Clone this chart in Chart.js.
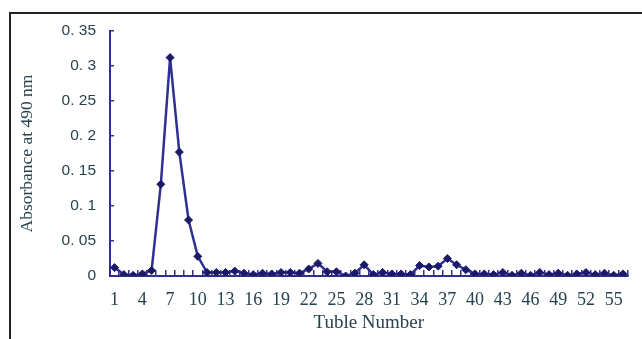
<!DOCTYPE html>
<html>
<head>
<meta charset="utf-8">
<script src="https://cdn.jsdelivr.net/npm/chart.js@4/dist/chart.umd.min.js"></script>
<style>
  html, body { margin: 0; padding: 0; background: #fff; }
  #wrap { position: relative; width: 642px; height: 339px; }
  #frame {
    position: absolute; left: 9px; top: 12px; right: -5px; bottom: -5px;
    border-left: 2px solid #222; border-top: 2px solid #222;
    pointer-events: none;
  }
</style>
</head>
<body>
<div id="wrap">
  <canvas id="chart" width="642" height="339"></canvas>
  <div id="frame"></div>
</div>
<script>
// tube numbers along the x axis
const tubes = [
  "1", "2", "3", "4", "5", "6", "7", "8", "9", "10",
  "11", "12", "13", "14", "15", "16", "17", "18", "19", "20",
  "21", "22", "23", "24", "25", "26", "27", "28", "29", "30",
  "31", "32", "33", "34", "35", "36", "37", "38", "39", "40",
  "41", "42", "43", "44", "45", "46", "47", "48", "49", "50",
  "51", "52", "53", "54", "55", "56"
];

// absorbance at 490 nm
const absorbance = [
  0.012, 0.002, 0.001, 0.003, 0.008, 0.131, 0.312, 0.177, 0.080, 0.028,
  0.005, 0.005, 0.005, 0.007, 0.004, 0.002, 0.004, 0.003, 0.005, 0.005,
  0.004, 0.010, 0.018, 0.006, 0.006, 0.000, 0.004, 0.016, 0.002, 0.005,
  0.003, 0.003, 0.002, 0.015, 0.013, 0.014, 0.025, 0.016, 0.009, 0.003,
  0.003, 0.002, 0.005, 0.001, 0.004, 0.001, 0.005, 0.002, 0.004, 0.001,
  0.003, 0.005, 0.002, 0.004, 0.001, 0.003
];

const yTickLabels = ["0", "0. 05", "0. 1", "0. 15", "0. 2", "0. 25", "0. 3", "0. 35"];

const lineColor = "#2e3192";
const textColor = "#27424f";
const serif = "'Liberation Serif', 'DejaVu Serif', serif";
const sans = "'Liberation Sans', Arial, sans-serif";

const ctx = document.getElementById("chart").getContext("2d");
new Chart(ctx, {
    type: "line",
    data: {
        labels: tubes,
        datasets: [{
            data: absorbance,
            borderColor: lineColor,
            borderWidth: 2.5,
            pointStyle: "rectRot",
            pointRadius: 4,
            pointBackgroundColor: "#1c1a66",
            pointBorderColor: "#1c1a66",
            pointBorderWidth: 1,
            tension: 0
        }]
    },
    options: {
        responsive: false,
        animation: false,
        layout: { padding: { top: 31, right: 0, bottom: 0, left: 0 } },
        plugins: {
            legend: { display: false },
            tooltip: { enabled: false }
        },
        scales: {
            x: {
                offset: true,
                grid: {
                    offset: true,
                    drawOnChartArea: false,
                    drawTicks: true,
                    tickLength: -6,
                    color: lineColor,
                    lineWidth: 1.5
                },
                border: { color: lineColor, width: 2 },
                ticks: {
                    autoSkip: false,
                    maxRotation: 0,
                    padding: 19,
                    color: textColor,
                    font: { family: serif, size: 18 },
                    callback: (value, index) => (index % 3 === 0 ? tubes[index] : "")
                },
                title: {
                    display: true,
                    text: "Tuble Number",
                    color: textColor,
                    font: { family: serif, size: 19 },
                    padding: { top: 0, bottom: 5 }
                },
                afterFit: scale => { scale.height = 63; }
            },
            y: {
                min: 0,
                max: 0.35,
                grid: {
                    drawOnChartArea: false,
                    drawTicks: true,
                    tickLength: -4,
                    color: lineColor,
                    lineWidth: 1.5
                },
                border: { color: lineColor, width: 2 },
                ticks: {
                    stepSize: 0.05,
                    padding: 18,
                    color: textColor,
                    font: { family: sans, size: 15.5 },
                    callback: (value, index) => yTickLabels[index]
                },
                title: {
                    display: true,
                    text: "Absorbance at 490 nm",
                    color: textColor,
                    font: { family: serif, size: 17.5 },
                    padding: { top: 17, bottom: 0 }
                },
                afterFit: scale => { scale.width = 110; }
            }
        }
    }
});
</script>
</body>
</html>
